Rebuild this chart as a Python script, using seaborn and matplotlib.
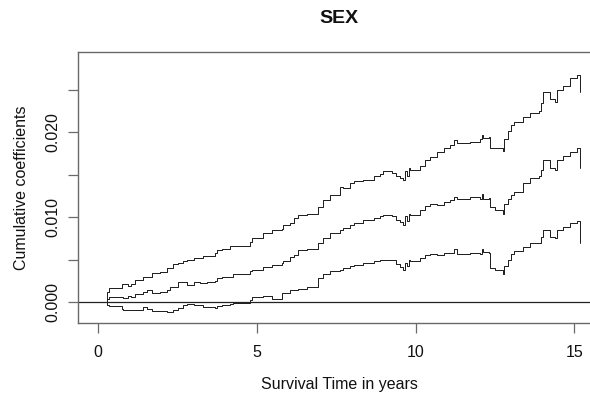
import matplotlib
matplotlib.use("Agg")
import matplotlib.pyplot as plt
import numpy as np
import pandas as pd
import seaborn as sns

# Event times (years) and cumulative regression coefficient for SEX,
# with its upper and lower pointwise confidence bands.
time = [0.20, 0.28, 0.35, 0.75, 0.80, 0.96, 1.05, 1.17, 1.43, 1.55,
        1.69, 1.95, 2.16, 2.27, 2.37, 2.53, 2.69, 2.80, 3.01, 3.21,
        3.32, 3.42, 3.69, 3.74, 3.90, 4.16, 4.26, 4.37, 4.79, 4.84,
        5.21, 5.47, 5.79, 5.84, 6.05, 6.16, 6.31, 6.58, 6.94, 7.10,
        7.31, 7.63, 7.73, 7.94, 8.05, 8.36, 8.68, 8.89, 8.99, 9.26,
        9.40, 9.50, 9.62, 9.68, 9.72, 9.78, 9.83, 10.15, 10.30, 10.46,
        10.67, 10.90, 11.09, 11.20, 11.30, 11.72, 12.04, 12.10, 12.14, 12.30,
        12.35, 12.51, 12.77, 12.80, 12.90, 13.00, 13.09, 13.40, 13.60, 13.88,
        13.95, 14.03, 14.25, 14.40, 14.45, 14.66, 14.88, 15.09, 15.17]

upper = [0.0000, 0.0012, 0.0016, 0.0021, 0.0021, 0.0019, 0.0021, 0.0026, 0.0030, 0.0029,
         0.0034, 0.0035, 0.0040, 0.0040, 0.0045, 0.0046, 0.0048, 0.0050, 0.0052, 0.0052,
         0.0054, 0.0054, 0.0058, 0.0061, 0.0063, 0.0066, 0.0066, 0.0066, 0.0071, 0.0075,
         0.0081, 0.0085, 0.0086, 0.0091, 0.0093, 0.0099, 0.0103, 0.0104, 0.0112, 0.0120,
         0.0126, 0.0136, 0.0134, 0.0140, 0.0143, 0.0144, 0.0148, 0.0151, 0.0154, 0.0152,
         0.0149, 0.0146, 0.0144, 0.0154, 0.0149, 0.0158, 0.0156, 0.0160, 0.0167, 0.0171,
         0.0177, 0.0181, 0.0185, 0.0191, 0.0188, 0.0189, 0.0192, 0.0197, 0.0193, 0.0194,
         0.0182, 0.0181, 0.0178, 0.0192, 0.0202, 0.0209, 0.0212, 0.0218, 0.0223, 0.0225,
         0.0235, 0.0248, 0.0239, 0.0236, 0.0250, 0.0255, 0.0264, 0.0268, 0.0248]

estimate = [0.0000, 0.0004, 0.0006, 0.0006, 0.0005, 0.0007, 0.0006, 0.0009, 0.0012, 0.0014,
            0.0010, 0.0012, 0.0014, 0.0018, 0.0018, 0.0023, 0.0023, 0.0020, 0.0024, 0.0022,
            0.0022, 0.0024, 0.0025, 0.0028, 0.0030, 0.0030, 0.0033, 0.0033, 0.0036, 0.0038,
            0.0041, 0.0044, 0.0046, 0.0048, 0.0053, 0.0055, 0.0061, 0.0062, 0.0069, 0.0076,
            0.0081, 0.0085, 0.0087, 0.0091, 0.0093, 0.0097, 0.0099, 0.0101, 0.0103, 0.0101,
            0.0097, 0.0094, 0.0091, 0.0101, 0.0096, 0.0104, 0.0103, 0.0108, 0.0113, 0.0116,
            0.0114, 0.0118, 0.0120, 0.0124, 0.0122, 0.0124, 0.0122, 0.0127, 0.0122, 0.0123,
            0.0112, 0.0108, 0.0104, 0.0115, 0.0121, 0.0126, 0.0130, 0.0140, 0.0146, 0.0148,
            0.0156, 0.0167, 0.0158, 0.0156, 0.0168, 0.0172, 0.0177, 0.0181, 0.0158]

lower = [0.0000, -0.0003, -0.0005, -0.0008, -0.0010, -0.0009, -0.0010, -0.0009, -0.0006, -0.0008,
         -0.0011, -0.0011, -0.0012, -0.0012, -0.0010, -0.0007, -0.0003, -0.0002, -0.0004, -0.0004,
         -0.0006, -0.0006, -0.0007, -0.0005, -0.0003, -0.0002, -0.0001, -0.0001, 0.0002, 0.0006,
         0.0007, 0.0004, 0.0010, 0.0011, 0.0014, 0.0014, 0.0015, 0.0018, 0.0028, 0.0033,
         0.0036, 0.0038, 0.0040, 0.0042, 0.0044, 0.0046, 0.0048, 0.0049, 0.0050, 0.0049,
         0.0045, 0.0041, 0.0038, 0.0046, 0.0043, 0.0049, 0.0048, 0.0052, 0.0055, 0.0057,
         0.0055, 0.0058, 0.0058, 0.0063, 0.0057, 0.0058, 0.0057, 0.0062, 0.0059, 0.0058,
         0.0040, 0.0038, 0.0033, 0.0042, 0.0050, 0.0056, 0.0060, 0.0065, 0.0069, 0.0070,
         0.0077, 0.0085, 0.0077, 0.0075, 0.0085, 0.0088, 0.0093, 0.0095, 0.0069]

x_ticks = [0, 5, 10, 15]
y_ticks = [0.000, 0.005, 0.010, 0.015, 0.020, 0.025]
y_tick_labels = ["0.000", "", "0.010", "", "0.020", ""]

df = pd.DataFrame({"time": time, "upper": upper, "estimate": estimate, "lower": lower})
long = df.melt(id_vars="time", var_name="band", value_name="coef")

sns.set_theme(style="white")
plt.rcParams["font.family"] = ["Liberation Sans", "DejaVu Sans"]

fig = plt.figure(figsize=(5.9, 3.96), dpi=100)
ax = fig.add_axes([78 / 590, 73 / 396, 522 / 590, 271 / 396])

sns.lineplot(data=long, x="time", y="coef", units="band", estimator=None,
             color="#1a1a1a", linewidth=0.7, drawstyle="steps-post",
             legend=False, ax=ax)
ax.axhline(0, color="#222222", linewidth=0.9)

ax.set_xlim(-0.63, 15.81)
ax.set_ylim(-0.00248, 0.02948)

frame_col = "#6a6a6a"
for s in ax.spines.values():
    s.set_color(frame_col)
    s.set_linewidth(1.0)
    s.set_visible(True)

ax.set_xticks(x_ticks)
ax.set_xticklabels([str(v) for v in x_ticks])
ax.set_yticks(y_ticks)
ax.set_yticklabels(y_tick_labels, rotation=90, va="center")
ax.tick_params(axis="both", which="major", direction="out", length=7,
               width=0.9, color=frame_col, labelsize=11.5, labelcolor="#111111")
ax.tick_params(axis="x", pad=9)
ax.tick_params(axis="y", pad=6)
ax.xaxis.set_ticks_position("bottom")
ax.yaxis.set_ticks_position("left")

ax.set_xlabel("Survival Time in years", fontsize=11.5, color="#111111")
ax.set_ylabel("Cumulative coefficients", fontsize=11.5, color="#111111")
ax.xaxis.set_label_coords(0.5, -0.20)
ax.yaxis.set_label_coords(-0.093, 0.5)
ax.set_title("SEX", fontsize=14, fontweight="bold", pad=21, color="#111111")

fig.savefig("out.png", dpi=100)
